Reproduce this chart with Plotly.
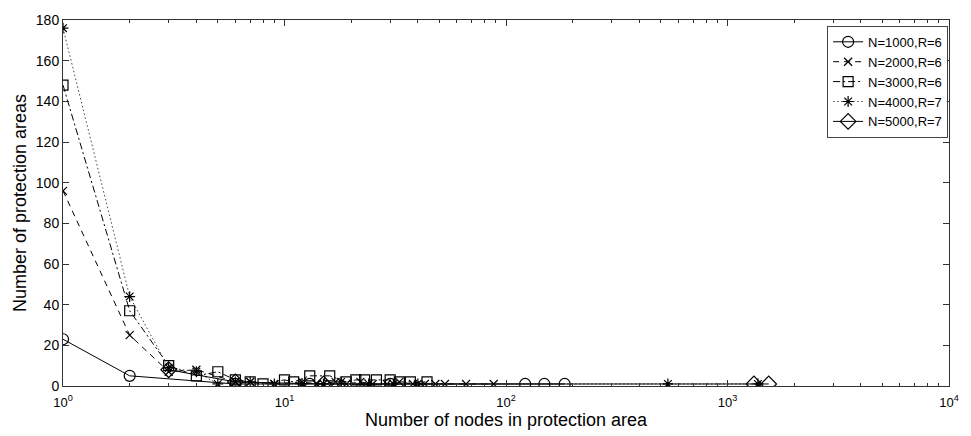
import plotly.graph_objects as go

# ---- data ----
n1000_x = [1, 2, 6, 13, 30, 122, 149, 184]
n1000_y = [23, 5, 1, 1, 1, 1, 1, 1]

n2000_x = [1, 2, 3, 4, 6, 7, 9, 12, 14, 17, 19, 22, 25, 29, 33, 38, 43, 48, 53, 66, 88]
n2000_y = [96, 25, 7, 8, 2, 2, 1, 2, 1, 2, 1, 2, 1, 1, 2, 1, 1, 1, 1, 1, 1]

n3000_x = [1, 2, 3, 4, 5, 6, 7, 8, 10, 11, 13, 16, 19, 21, 23, 26, 30, 33, 37, 44]
n3000_y = [148, 37, 10, 5, 7, 3, 2, 1, 3, 2, 5, 5, 2, 3, 3, 3, 3, 2, 2, 2]

n4000_x = [1, 2, 3, 4, 5, 6, 7, 9, 12, 15, 18, 24, 31, 40, 538, 1372]
n4000_y = [176, 44, 9, 7, 1, 2, 2, 1, 1, 1, 2, 1, 1, 1, 1, 1]

n5000_x = [3, 6, 15, 1316, 1535]
n5000_y = [8, 2, 1, 1, 1]

series_names = ["N=1000,R=6", "N=2000,R=6", "N=3000,R=6", "N=4000,R=7", "N=5000,R=7"]

x_tickvals = [1, 10, 100, 1000, 10000]
x_ticktext = ["10<sup>0</sup>", "10<sup>1</sup>", "10<sup>2</sup>", "10<sup>3</sup>", "10<sup>4</sup>"]
x_minor_tickvals = [m * d for d in [1, 10, 100, 1000] for m in range(2, 10)]
y_tickvals = [0, 20, 40, 60, 80, 100, 120, 140, 160, 180]

FONT = "Liberation Sans, Arial, Helvetica, sans-serif"

styles = [
    dict(dash="solid", color="black", symbol="circle-open", size=11),
    dict(dash="6px,5px", color="black", symbol="x-thin-open", size=8),
    dict(dash="7px,3px,2px,3px", color="black", symbol="square-open", size=10),
    dict(dash="1.5px,2.5px", color="#444", symbol="asterisk-open", size=9),
    dict(dash="solid", color="black", symbol="diamond-open", size=12),
]
xs = [n1000_x, n2000_x, n3000_x, n4000_x, n5000_x]
ys = [n1000_y, n2000_y, n3000_y, n4000_y, n5000_y]

fig = go.Figure()
for name, x, y, st in zip(series_names, xs, ys, styles):
    fig.add_trace(go.Scatter(
        x=x, y=y, name=name, mode="lines+markers",
        line=dict(color=st["color"], width=1, dash=st["dash"]),
        marker=dict(symbol=st["symbol"], size=st["size"], color="black",
                    line=dict(color="black", width=1.2)),
    ))

fig.update_layout(
    width=971, height=436,
    margin=dict(l=63, r=13, t=17, b=41),
    paper_bgcolor="white", plot_bgcolor="white",
    font=dict(family=FONT, size=14, color="black"),
    showlegend=True,
    legend=dict(x=0.999, y=0.984, xanchor="right", yanchor="top",
                bgcolor="white", bordercolor="#444", borderwidth=1,
                font=dict(family=FONT, size=13, color="black"),
                tracegroupgap=0, itemwidth=30),
)
fig.update_xaxes(
    type="log", range=[0, 4],
    tickvals=x_tickvals, ticktext=x_ticktext,
    ticks="inside", ticklen=6, tickcolor="#333",
    minor=dict(tickmode="array", tickvals=x_minor_tickvals,
               ticks="inside", ticklen=3, tickcolor="#333", showgrid=False),
    showline=True, linecolor="#333", linewidth=1, mirror="ticks",
    showgrid=False, zeroline=False,
    ticklabelstandoff=4,
    tickfont=dict(family=FONT, size=13),
    title=dict(text="Number of nodes in protection area", font=dict(family=FONT, size=18), standoff=2),
)
fig.update_yaxes(
    range=[0, 180], tickvals=y_tickvals,
    ticks="inside", ticklen=6, tickcolor="#333",
    showline=True, linecolor="#333", linewidth=1, mirror="ticks",
    showgrid=False, zeroline=False,
    tickfont=dict(family=FONT, size=14),
    title=dict(text="Number of protection areas", font=dict(family=FONT, size=18), standoff=4),
)

fig.write_html("out.html")
